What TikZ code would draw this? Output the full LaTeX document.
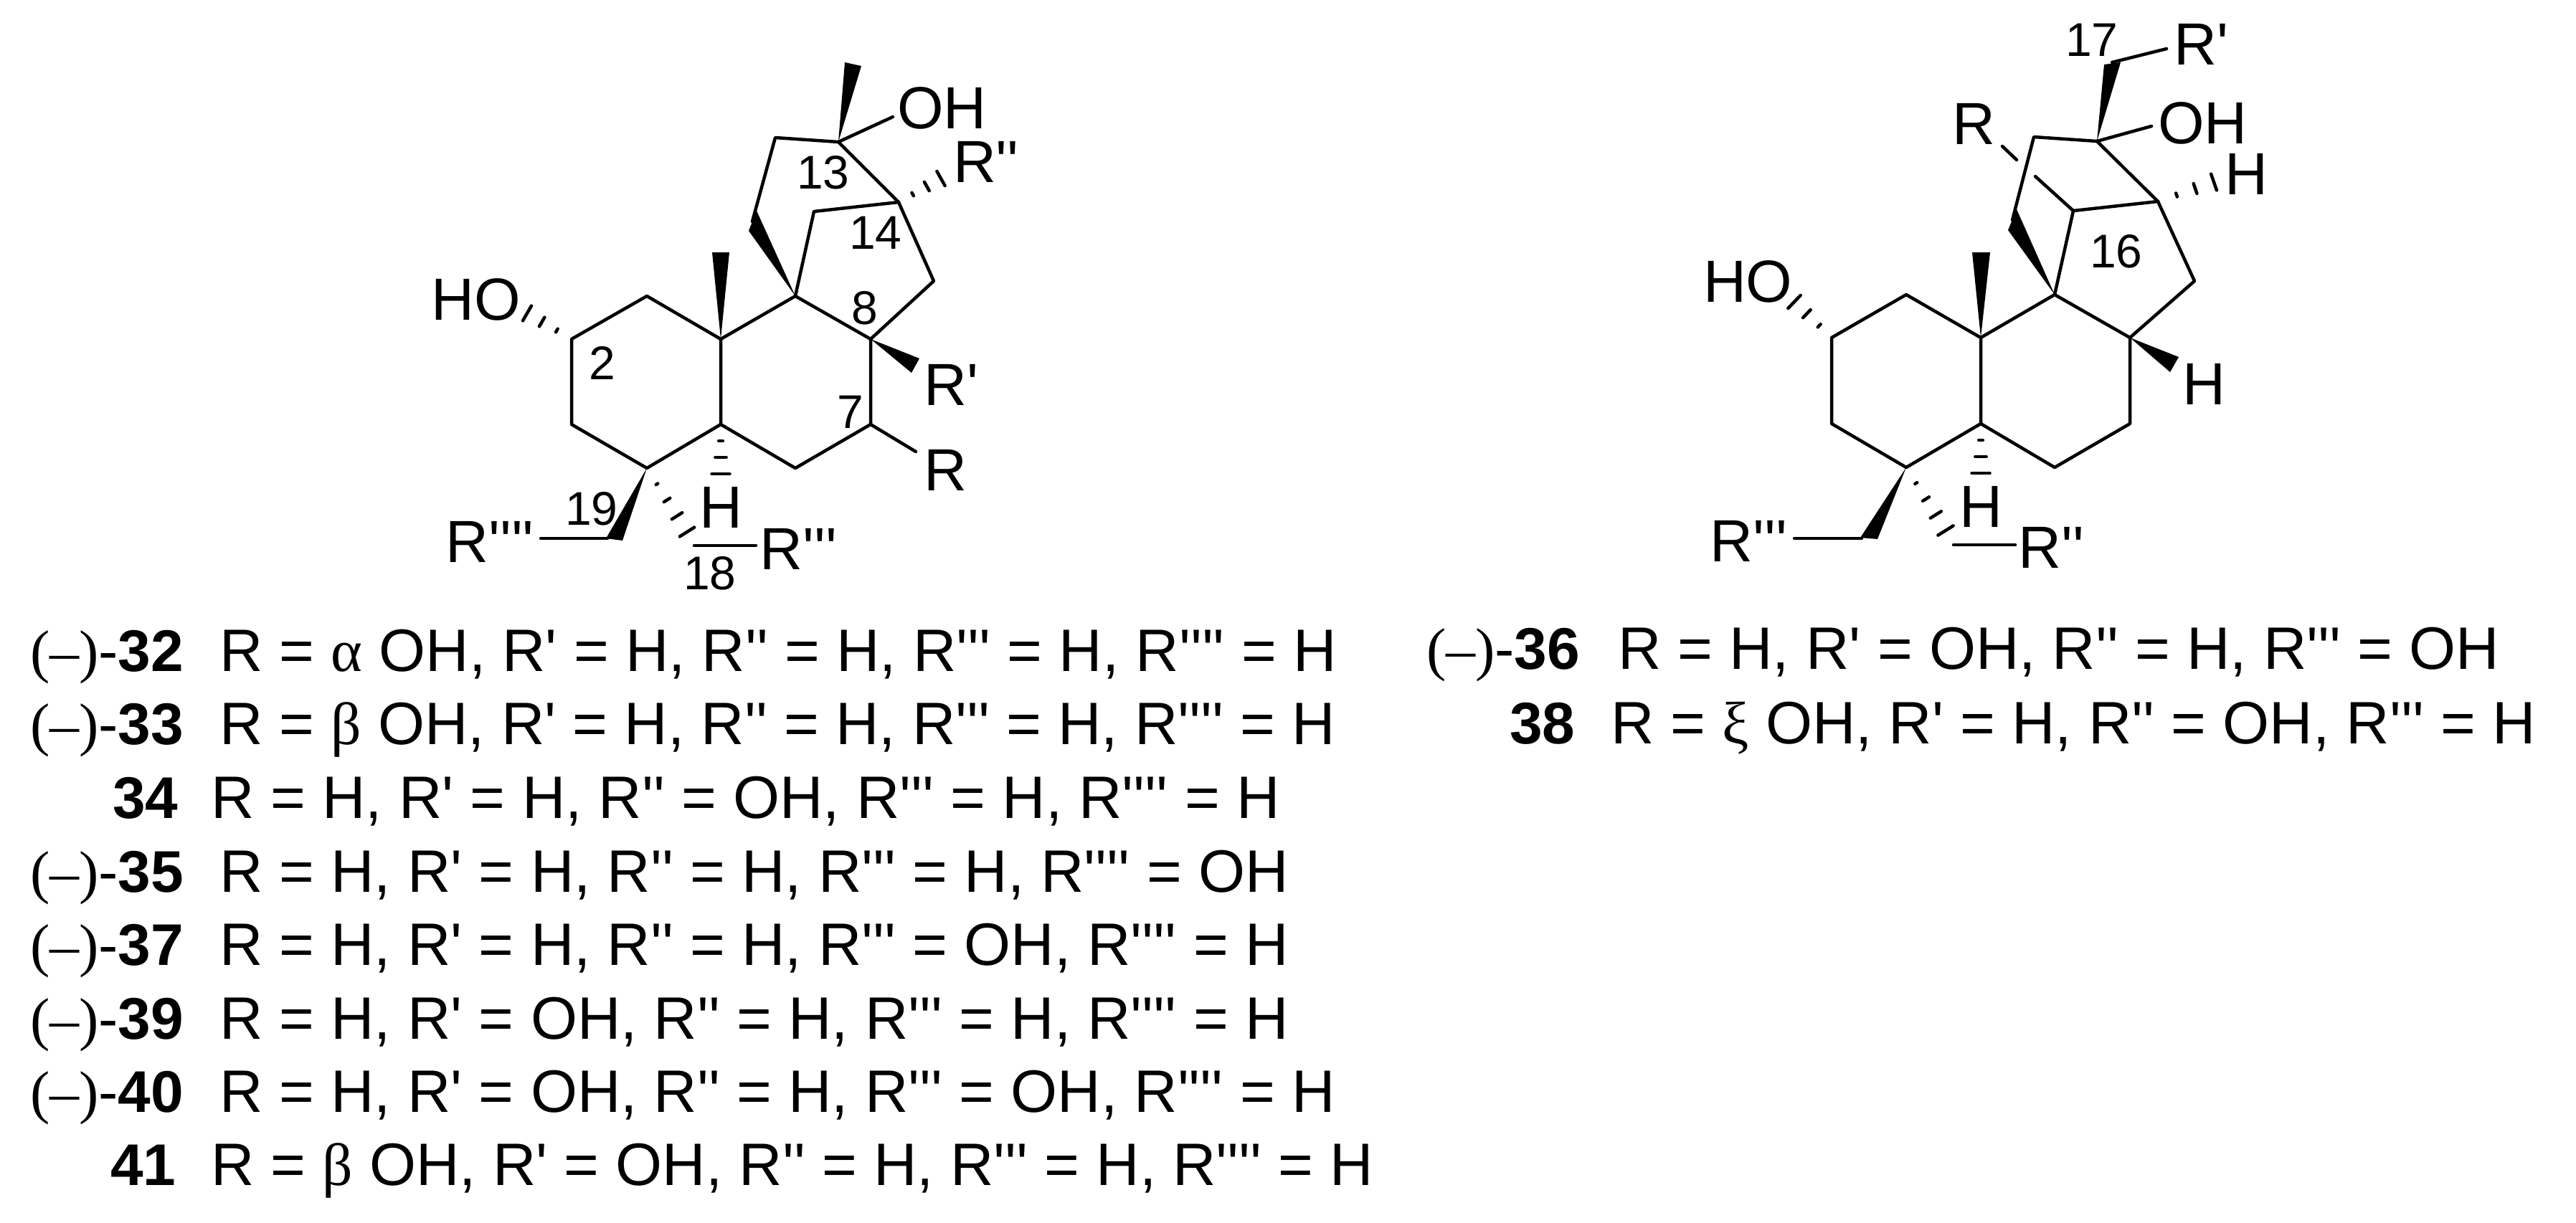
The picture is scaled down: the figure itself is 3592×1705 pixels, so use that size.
\documentclass[tikz,border=0pt]{standalone}
\usepackage{fontspec}
\usetikzlibrary{calc}
\newfontfamily\arialf{Liberation Sans}
\newfontfamily\serf{Liberation Serif}
\newcommand\strf{\arialf\fontsize{83}{85}\selectfont}
\newcommand\numf{\arialf\fontsize{66}{68}\selectfont}
\newcommand\listf{\arialf\fontsize{83.6}{86}\selectfont}
\newcommand\tagf{\arialf\fontsize{82}{84}\selectfont}
\tikzset{
  bond/.style={line width=4.5pt,line cap=round,line join=round},
  hash/.style={line width=4.5pt,line cap=round},
  wedgefill/.style={fill=black,draw=none},
  atom/.style={anchor=base west,inner sep=0pt,outer sep=0pt,font=\strf},
  locant/.style={anchor=base west,inner sep=0pt,outer sep=0pt,font=\numf},
  entry/.style={anchor=base west,inner sep=0pt,outer sep=0pt,font=\listf},
  tagnode/.style={anchor=base west,inner sep=0pt,outer sep=0pt,font=\tagf},
}
\newcommand\hashbond[4]{%
  \coordinate (hfar) at ($(#1)!2!(#2)$);
  \foreach \hi in {1,...,#3}{%
    \pgfmathsetmacro\hT{\hi/#3}%
    \pgfmathsetmacro\hW{(#4*\hT-4)/2}%
    \draw[hash] ($(#1)!\hT!(#2)!\hW pt!90:(hfar)$) -- ($(#1)!\hT!(#2)!\hW pt!-90:(hfar)$);
  }}
\newcommand\wedgebond[3]{\fill[wedgefill] (#1) -- (#2) -- (#3) -- cycle;}
\begin{document}
\begin{tikzpicture}[x=1pt,y=-1pt]
\useasboundingbox (0,0) rectangle (3592,1705);
% ---- left skeleton
\coordinate (c2) at (797,473);
\coordinate (c1) at (902,413);
\coordinate (c10) at (1005,473);
\coordinate (c5) at (1005,592);
\coordinate (c3) at (797,592);
\coordinate (c4) at (902,653);
\coordinate (c6) at (1109,653);
\coordinate (c7) at (1214,592);
\coordinate (c8) at (1214,473);
\coordinate (c9) at (1109,413);
\coordinate (c15) at (1302,392);
\coordinate (c14) at (1253,282);
\coordinate (c13) at (1169,198);
\coordinate (c12) at (1081,192);
\coordinate (c11) at (1049,309);
\coordinate (c11a) at (1055,294);
\coordinate (c11b) at (1044,322);
\coordinate (c16) at (1135,295);
\coordinate (me13a) at (1178,87);
\coordinate (me13b) at (1201,92);
\coordinate (oh13) at (1245,163);
\coordinate (me10a) at (993,352);
\coordinate (me10b) at (1017,352);
\coordinate (rp8a) at (1282,500);
\coordinate (rp8b) at (1271,520);
\coordinate (r7) at (1277,630);
\coordinate (c19a) at (845,751);
\coordinate (c19b) at (868,754);
\coordinate (c19) at (847,751);
\coordinate (r19) at (754,751);
\coordinate (c18) at (968,761);
\coordinate (r18) at (1054,761);
\coordinate (ho2) at (735,437);
\coordinate (h5) at (1005,661);
\coordinate (h18) at (958,742);
\coordinate (rpp14) at (1312,249);
\draw[bond] (c2)--(c1)--(c10)--(c5)--(c4)--(c3)--cycle;
\draw[bond] (c10)--(c9)--(c8)--(c7)--(c6)--(c5);
\draw[bond] (c8)--(c15)--(c14)--(c13)--(c12)--(c11);
\draw[bond] (c9)--(c16)--(c14);
\draw[bond] (c13)--(oh13);
\draw[bond] (c7)--(r7);
\draw[bond] (r19)--(c19);
\draw[bond] (c18)--(r18);
\wedgebond{c13}{me13a}{me13b}
\wedgebond{c10}{me10a}{me10b}
\wedgebond{c8}{rp8a}{rp8b}
\wedgebond{c9}{c11a}{c11b}
\wedgebond{c4}{c19a}{c19b}
\hashbond{c2}{ho2}{3}{28}
\hashbond{c5}{h5}{3}{29}
\hashbond{c4}{h18}{4}{28}
\hashbond{c14}{rpp14}{3}{27}
\node[atom] (tOH) at (1251,179) {OH};
\node[atom] (tHO) at (601.5,446) {HO};
\node[atom] (tRpp) at (1329,254) {R''};
\node[atom] (tRp) at (1288.5,565) {R'};
\node[atom] (tR) at (1288.5,684) {R};
\node[atom] (tH) at (975,736) {H};
\node[atom] (tRppp) at (1059.5,794) {R'''};
\node[atom] (tRpppp) at (621.5,784) {R''''};
\node[locant] (n2) at (821,529) {2};
\node[locant] (n13) at (1111,263) {13};
\node[locant] (n14) at (1184,347) {14};
\node[locant] (n8) at (1187,452) {8};
\node[locant] (n7) at (1167,597) {7};
\node[locant] (n19) at (788,732) {19};
\node[locant] (n18) at (953,822) {18};
% ---- right skeleton
\coordinate (a2) at (2554,471);
\coordinate (a1) at (2658,411);
\coordinate (a10) at (2762,471);
\coordinate (a5) at (2762,591);
\coordinate (a3) at (2554,591);
\coordinate (a4) at (2658,652);
\coordinate (a6) at (2865,652);
\coordinate (a7) at (2970,591);
\coordinate (a8) at (2970,471);
\coordinate (a9) at (2865,411);
\coordinate (a15) at (3060,392);
\coordinate (a14) at (3009,281);
\coordinate (a13) at (2924,197);
\coordinate (a12) at (2836,191);
\coordinate (a11) at (2806,307);
\coordinate (a11a) at (2812,292);
\coordinate (a11b) at (2800,321);
\coordinate (a16) at (2891,294);
\coordinate (a16g) at (2838,246);
\coordinate (rg) at (2812,223);
\coordinate (rt) at (2792,204);
\coordinate (a17a) at (2934,90);
\coordinate (a17b) at (2957,87);
\coordinate (a17) at (2945,87);
\coordinate (rpa) at (3021,68);
\coordinate (oha) at (3000,176);
\coordinate (h14) at (3087,254);
\coordinate (h8a) at (3038,498);
\coordinate (h8b) at (3026,519);
\coordinate (me10c) at (2750,352);
\coordinate (me10d) at (2775,352);
\coordinate (hoa) at (2502,421);
\coordinate (ha5) at (2762,660);
\coordinate (a19a) at (2594,750);
\coordinate (a19b) at (2618,752);
\coordinate (a19) at (2596,751);
\coordinate (r19a) at (2502,751);
\coordinate (ha18) at (2713,740);
\coordinate (a18) at (2724,760);
\coordinate (r18a) at (2810,760);
\draw[bond] (a2)--(a1)--(a10)--(a5)--(a4)--(a3)--cycle;
\draw[bond] (a10)--(a9)--(a8)--(a7)--(a6)--(a5);
\draw[bond] (a8)--(a15)--(a14)--(a13)--(a12)--(a11);
\draw[bond] (a9)--(a16)--(a14);
\draw[bond] (a16)--(a16g);
\draw[bond] (rg)--(rt);
\draw[bond] (a13)--(oha);
\draw[bond] (a17)--(rpa);
\draw[bond] (a19)--(r19a);
\draw[bond] (a18)--(r18a);
\wedgebond{a13}{a17a}{a17b}
\wedgebond{a10}{me10c}{me10d}
\wedgebond{a8}{h8a}{h8b}
\wedgebond{a9}{a11a}{a11b}
\wedgebond{a4}{a19a}{a19b}
\hashbond{a2}{hoa}{3}{29}
\hashbond{a5}{ha5}{3}{29}
\hashbond{a4}{ha18}{4}{29}
\hashbond{a14}{h14}{3}{28}
\node[atom] (bOH) at (3009,200) {OH};
\node[atom] (bHO) at (2375,421) {HO};
\node[atom] (bRtop) at (2722.5,201) {R};
\node[atom] (bRp) at (3031.5,90) {R'};
\node[atom] (bHa) at (3102.5,271) {H};
\node[atom] (bHb) at (3043.5,564) {H};
\node[atom] (bHc) at (2732,735) {H};
\node[atom] (bRpp) at (2814.5,792.5) {R''};
\node[atom] (bRppp) at (2384.5,783.5) {R'''};
\node[locant] (n17) at (2880,78) {17};
\node[locant] (n16) at (2914,373) {16};
% ---- list
\newcommand\minuspair{{\serf(–)}}
\node[tagnode] (l32) at (42,936) {\minuspair-\textbf{32}};
\node[entry] (r32) at (306,936) {R = {\serf α} OH, R' = H, R'' = H, R''' = H, R'''' = H};
\node[tagnode] (l33) at (42,1038) {\minuspair-\textbf{33}};
\node[entry] (r33) at (306,1038) {R = {\serf β} OH, R' = H, R'' = H, R''' = H, R'''' = H};
\node[tagnode] (l34) at (157,1141) {\textbf{34}};
\node[entry] (r34) at (294,1141) {R = H, R' = H, R'' = OH, R''' = H, R'''' = H};
\node[tagnode] (l35) at (42,1244) {\minuspair-\textbf{35}};
\node[entry] (r35) at (306,1244) {R = H, R' = H, R'' = H, R''' = H, R'''' = OH};
\node[tagnode] (l37) at (42,1346) {\minuspair-\textbf{37}};
\node[entry] (r37) at (306,1346) {R = H, R' = H, R'' = H, R''' = OH, R'''' = H};
\node[tagnode] (l39) at (42,1449) {\minuspair-\textbf{39}};
\node[entry] (r39) at (306,1449) {R = H, R' = OH, R'' = H, R''' = H, R'''' = H};
\node[tagnode] (l40) at (42,1551) {\minuspair-\textbf{40}};
\node[entry] (r40) at (306,1551) {R = H, R' = OH, R'' = H, R''' = OH, R'''' = H};
\node[tagnode] (l41) at (154,1653) {\textbf{41}};
\node[entry] (r41) at (294,1653) {R = {\serf β} OH, R' = OH, R'' = H, R''' = H, R'''' = H};
\node[tagnode] (l36) at (1989,933) {\minuspair-\textbf{36}};
\node[entry] (r36) at (2256,933) {R = H, R' = OH, R'' = H, R''' = OH};
\node[tagnode] (l38) at (2105,1037) {\textbf{38}};
\node[entry] (r38) at (2246,1037) {R = {\serf ξ} OH, R' = H, R'' = OH, R''' = H};
\end{tikzpicture}
\end{document}
